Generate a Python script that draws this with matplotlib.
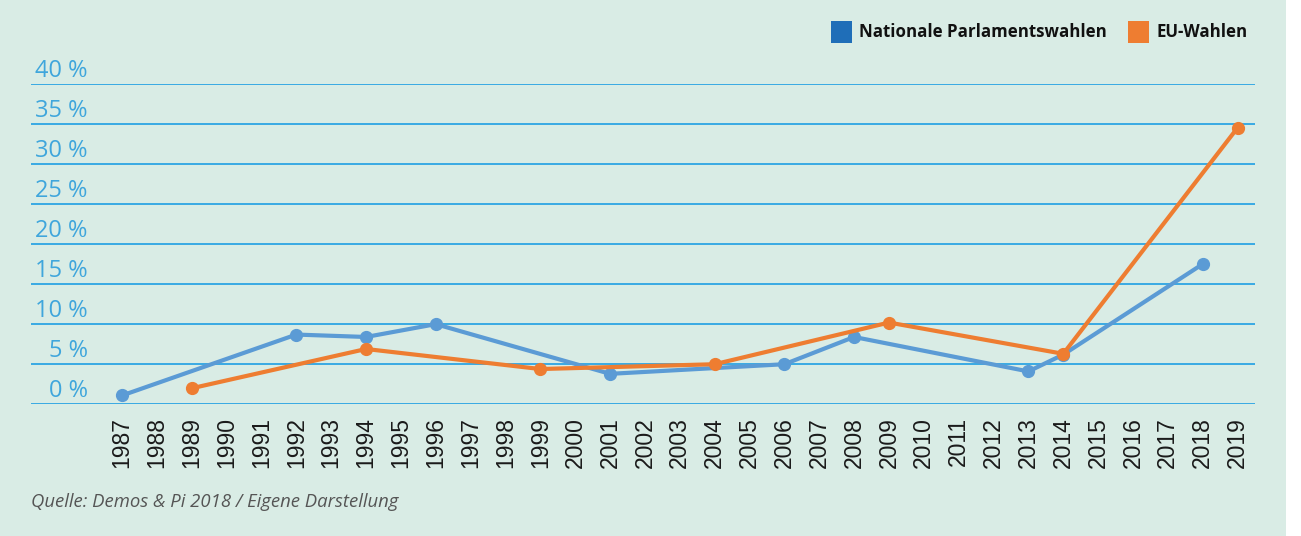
import matplotlib
matplotlib.use("Agg")
from matplotlib import pyplot as plt
from matplotlib.patches import Rectangle

# categories on the x axis
years = [str(y) for y in [1987, 1988, 1989, 1990, 1991, 1992, 1993, 1994, 1995, 1996,
                          1997, 1998, 1999, 2000, 2001, 2002, 2003, 2004, 2005, 2006,
                          2007, 2008, 2009, 2010, 2011, 2012, 2013, 2014, 2015, 2016,
                          2017, 2018, 2019]]

# Nationale Parlamentswahlen (percent)
nat_years = ["1987", "1992", "1994", "1996", "2001", "2006", "2008", "2013", "2014", "2018"]
nat_values = [1.1, 8.7, 8.4, 10.0, 3.8, 5.0, 8.4, 4.1, 6.2, 17.5]

# EU-Wahlen (percent)
eu_years = ["1989", "1994", "1999", "2004", "2009", "2014", "2019"]
eu_values = [2.0, 6.9, 4.4, 5.0, 10.2, 6.3, 34.5]

y_ticks = [0, 5, 10, 15, 20, 25, 30, 35, 40]

BG = "#d9ece5"
GRID = "#1e9fe3"
LABEL_BLUE = "#3fa6dc"
NAT_LINE = "#5b9bd5"
NAT_LEGEND = "#1f6eb8"
EU = "#ee7d31"

W, H = 1301, 536
fig = plt.figure(figsize=(W / 100, H / 100), dpi=100, facecolor=BG)
fig.patches.append(Rectangle((1286 / W, 0), 15 / W, 1, transform=fig.transFigure,
                             facecolor="white", edgecolor="none", zorder=0))

ax = fig.add_axes([31 / W, (H - 404.3) / H, (1255 - 31) / W, (404.3 - 83.7) / H])
ax.set_facecolor(BG)
for s in ax.spines.values():
    s.set_visible(False)

ax.set_ylim(0, 40)
ax.set_xlim(-2.61, len(years) - 0.5)
ax.set_yticks(y_ticks)
ax.set_yticklabels([])
ax.yaxis.grid(True, color=GRID, linewidth=1.2)
ax.set_axisbelow(True)
ax.tick_params(axis="both", length=0)

ax.set_xticks(range(len(years)))
ax.set_xticklabels(years, rotation=90, fontsize=16.5, family="Liberation Sans",
                   color="#1a1a1a")
ax.tick_params(axis="x", pad=9)

# y labels sit above their gridlines, right-aligned
for v in y_ticks:
    ax.text(-2.61 + 56.5 / 34.86, v + 0.85, f"{v} %", fontsize=17, family="Open Sans",
            color=LABEL_BLUE, va="baseline", ha="right")

nat_x = [years.index(y) for y in nat_years]
eu_x = [years.index(y) for y in eu_years]
ax.plot(nat_x, nat_values, color=NAT_LINE, linewidth=3, marker="o", markersize=8.5,
        zorder=3, clip_on=False)
ax.plot(eu_x, eu_values, color=EU, linewidth=3, marker="o", markersize=8.5,
        zorder=4, clip_on=False)

# legend drawn by hand
fig.patches.append(Rectangle((831 / W, (H - 42.5) / H), 21 / W, 21 / H,
                             transform=fig.transFigure, facecolor=NAT_LEGEND, edgecolor="none"))
fig.text(859 / W, (H - 32) / H, "Nationale Parlamentswahlen", fontsize=12.2,
         family="Open Sans", weight="bold", color="#111111", va="center", ha="left")
fig.patches.append(Rectangle((1128 / W, (H - 42.5) / H), 21 / W, 21 / H,
                             transform=fig.transFigure, facecolor=EU, edgecolor="none"))
fig.text(1156 / W, (H - 32) / H, "EU-Wahlen", fontsize=12.2,
         family="Open Sans", weight="bold", color="#111111", va="center", ha="left")

fig.text(31 / W, (H - 507) / H, "Quelle: Demos & Pi 2018 / Eigene Darstellung",
         fontsize=13.3, family="Open Sans", style="italic", color="#555555",
         va="baseline", ha="left")

fig.savefig("out.png", dpi=100, facecolor=BG)
